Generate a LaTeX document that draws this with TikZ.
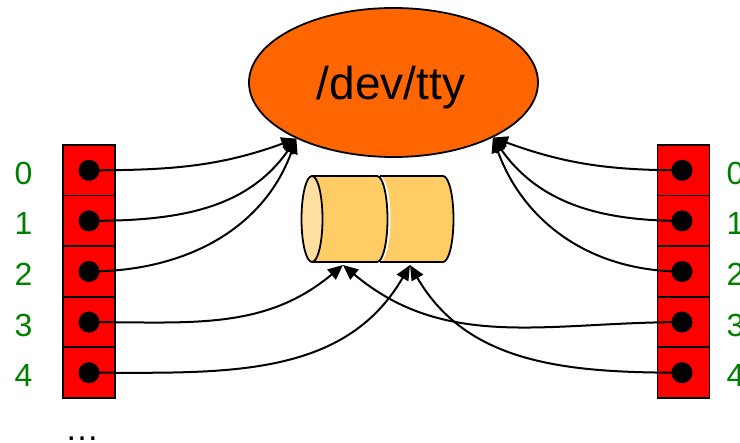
\documentclass[tikz,border=0pt]{standalone}
\usepackage{fontspec}
\setmainfont{Liberation Sans}
\usetikzlibrary{shapes.geometric,arrows.meta}
\definecolor{ttyorange}{RGB}{255,102,0}
\definecolor{cellred}{RGB}{255,0,0}
\definecolor{lblgreen}{RGB}{0,128,0}
\definecolor{cylbody}{RGB}{255,204,102}
\definecolor{cylend}{RGB}{255,224,160}
\begin{document}
\begin{tikzpicture}[x=1pt,y=-1pt,
  cell/.style={draw, fill=cellred, line width=1.8pt, minimum width=52pt, minimum height=50.6pt, inner sep=0},
  dot/.style={circle, fill=black, minimum size=21pt, inner sep=0},
  lbl/.style={text=lblgreen, font=\fontsize{32}{34}\selectfont, inner sep=0},
  arr/.style={line width=2pt, -{Triangle[length=15pt,width=13pt]}},
  cyl/.style={draw, line width=1.8pt}
]
\useasboundingbox (0,0) rectangle (740,443);

% /dev/tty
\node[ellipse, draw, fill=ttyorange, line width=1.8pt, minimum width=289pt, minimum height=149pt, inner sep=0] (tty) at (393.5,82.5) {};
\node[anchor=base, inner sep=0, font=\fontsize{46}{50}\selectfont] (ttytext) at (391,100) {/dev/tty};

% registers
\foreach \i/\y in {0/170.3,1/220.9,2/271.5,3/322.1,4/372.7}{
  \node[cell] (Lc\i) at (89,\y) {};
  \node[cell] (Rc\i) at (683.5,\y) {};
  \node[dot] (L\i) at (89,\y) {};
  \node[dot] (R\i) at (682,\y) {};
  \node[lbl] (Ll\i) at (23.5,\y+3) {\i};
  \node[lbl, anchor=west] (Rl\i) at (726.5,\y+3) {\i};
}
\node[anchor=base, inner sep=0, font=\fontsize{34}{36}\selectfont] (more) at (82,441) {…};

% pipe (two cylinders)
\fill[cylbody] (380,176) -- (443,176) arc[start angle=-90, end angle=90, x radius=10.5pt, y radius=-43pt] -- (380,262) arc[start angle=90, end angle=-90, x radius=10.5pt, y radius=-43pt] -- cycle;
\draw[cyl] (380,176) -- (443,176) arc[start angle=-90, end angle=90, x radius=10.5pt, y radius=-43pt] -- (380,262);
\fill[cylbody] (312,176) -- (377,176) arc[start angle=-90, end angle=90, x radius=10.5pt, y radius=-43pt] -- (312,262) -- cycle;
\draw[cyl] (312,176) -- (377,176) arc[start angle=-90, end angle=90, x radius=10.5pt, y radius=-43pt] -- (312,262);
\draw[cyl, fill=cylend] (312,219) ellipse[x radius=10.5pt, y radius=43pt];
\coordinate (p1) at (343,265);
\coordinate (p2) at (410,265);

% connectors
\draw[arr] (L0.center) to[out=0,in=200] (tty.210);
\draw[arr] (L1.center) to[out=0,in=235] (tty.210);
\draw[arr] (L2.center) to[out=0,in=250] (tty.210);
\draw[arr] (R0.center) to[out=180,in=-20] (tty.331);
\draw[arr] (R1.center) to[out=180,in=-55] (tty.331);
\draw[arr] (R2.center) to[out=180,in=-70] (tty.331);
\draw[arr] (L3.center) to[out=0,in=220] (p1);
\draw[arr] (R3.center) to[out=180,in=-40] (p1);
\draw[arr] (L4.center) to[out=0,in=240] (p2);
\draw[arr] (R4.center) to[out=180,in=-60] (p2);
\end{tikzpicture}
\end{document}
